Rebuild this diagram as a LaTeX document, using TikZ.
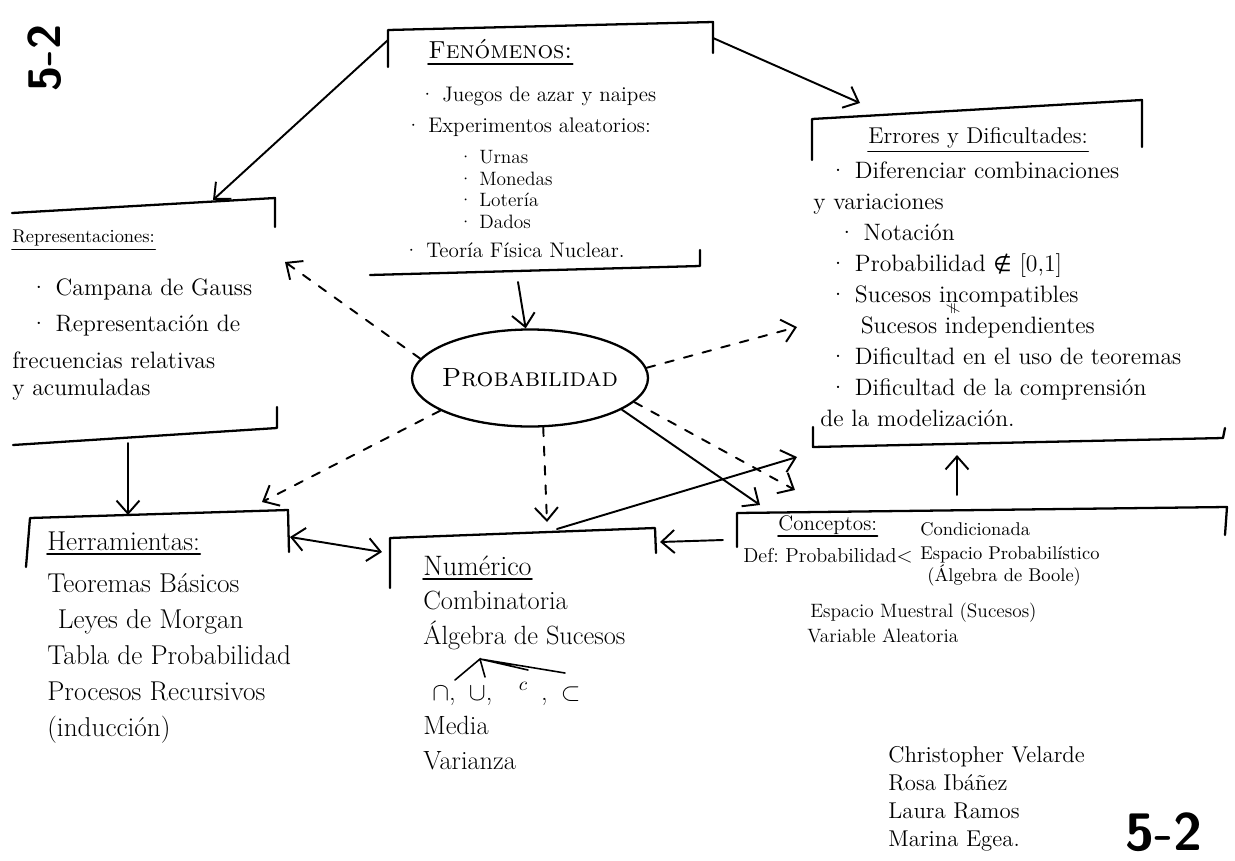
\documentclass[tikz,border=0pt]{standalone}
\usepackage{fontspec}
\usepackage{tikz}
\usetikzlibrary{arrows.meta,calc,positioning,shapes.geometric}
\newfontfamily\symbfont{DejaVu Sans}

\newcommand{\fsz}[2]{\fontsize{#1}{#2}\selectfont}

\begin{document}
\begin{tikzpicture}[
    x=0.2mm, y=-0.2mm,
    frame/.style={line width=1.3pt,line cap=round,line join=round},
    uline/.style={line width=1pt,line cap=round},
    txt/.style={inner sep=0pt,anchor=base west},
    list/.style={inner sep=0pt,anchor=north west,align=left},
    arr/.style={-{Straight Barb[length=2.6mm,width=4.6mm]},line width=1.1pt,line cap=round},
    both/.style={arr,{Straight Barb[length=2.6mm,width=4.6mm]}-{Straight Barb[length=2.6mm,width=4.6mm]}},
    darr/.style={arr,dash pattern=on 5pt off 6pt},
    fan/.style={line width=0.9pt,line cap=round}
  ]
  \useasboundingbox (0,0) rectangle (1235,861);

  % sheet marks
  \node[rotate=90,font=\sffamily\bfseries\fsz{26}{26}] (hoja) at (45,58) {5-2};
  \node[txt,font=\sffamily\bfseries\fsz{30}{30}] (grupo) at (1125,850) {5-2};

  % centre
  \node[draw,ellipse,frame,inner xsep=-7pt,minimum width=47.2mm,minimum height=19.4mm,font=\fsz{15}{18}] (prob) at (530,378) {\textsc{Probabilidad}};

  % Fenomenos
  \draw[frame] (388,67) -- (388,30) -- (713,22) -- (713,53);
  \draw[frame] (370,275) -- (700,266) -- (700,250);
  \coordinate (fenNW) at (388,40);
  \coordinate (fenNE) at (713,38);
  \coordinate (fenS) at (518,282);
  \node[txt,font=\fsz{14}{16}] (fenT) at (428,58) {\textsc{Fenómenos:}};
  \draw[uline] ([yshift=-3pt]fenT.south west) -- ([yshift=-3pt]fenT.south east);
  \node[list,font=\fsz{12}{17.6}] (fenA) at (405,87) {\hspace*{8pt}\textperiodcentered\ Juegos de azar y naipes\\
    \textperiodcentered\ Experimentos aleatorios:};
  \node[list,font=\fsz{11}{12.3}] (fenB) at (458,150) {\textperiodcentered\ Urnas\\\textperiodcentered\ Monedas\\
    \textperiodcentered\ Lotería\\\textperiodcentered\ Dados};
  \node[txt,font=\fsz{12}{14}] (fenC) at (403,257) {\textperiodcentered\ Teoría Física Nuclear.};

  % Representaciones
  \draw[frame] (12,213) -- (275,198) -- (275,227);
  \draw[frame] (13,445) -- (277,428) -- (277,407);
  \coordinate (repN) at (213,200);
  \coordinate (repS) at (128,443);
  \coordinate (repD) at (285,262);
  \node[txt,font=\fsz{10.5}{12}] (repT) at (12,242) {Representaciones:};
  \draw[uline] ([yshift=-2pt]repT.south west) -- ([yshift=-2pt]repT.south east);
  \node[list,font=\fsz{13.5}{21}] (repA) at (12,278) {\hspace*{10pt}\textperiodcentered\ Campana de Gauss\\
    \hspace*{10pt}\textperiodcentered\ Representación de\\frecuencias relativas};
  \node[txt,font=\fsz{13.5}{16}] (repB) at (12,395) {y acumuladas};

  % Herramientas
  \draw[frame] (26,567) -- (30,518) -- (288,510) -- (289,552);
  \coordinate (herN) at (128,515);
  \coordinate (herE) at (290,537);
  \coordinate (herD) at (262,502);
  \node[txt,font=\fsz{15.5}{18}] (herT) at (47,550) {Herramientas:};
  \draw[uline] ([yshift=-2pt]herT.south west) -- ([yshift=-2pt]herT.south east);
  \node[list,font=\fsz{15.5}{20.5}] (herA) at (47,573) {Teoremas Básicos\\\hspace*{6pt}Leyes de Morgan\\
    Tabla de Probabilidad\\Procesos Recursivos\\(inducción)};

  % Numerico
  \draw[frame] (390,588) -- (390,538) -- (655,528) -- (656,553);
  \coordinate (numW) at (382,552);
  \coordinate (numE) at (660,542);
  \coordinate (numN) at (547,522);
  \coordinate (numT) at (557,529);
  \node[txt,font=\fsz{16}{18}] (numT1) at (423,575) {Numérico};
  \draw[uline] ([yshift=-2pt]numT1.south west) -- ([yshift=-2pt]numT1.south east);
  \node[list,font=\fsz{15}{20}] (numA) at (423,591) {Combinatoria\\Álgebra de Sucesos};
  \node[txt,font=\fsz{15}{16}] (numOps) at (432,700) {$\cap$,\enspace$\cup$,\enspace\enspace$^{c}$\enspace,\enspace$\subset$};
  \coordinate (alg) at (480,659);
  \coordinate (fan1) at (455,680);
  \coordinate (fan2) at (485,677);
  \coordinate (fan3) at (528,670);
  \coordinate (fan4) at (565,673);
  \draw[fan] (fan1) -- (alg) -- (fan2);
  \draw[fan] (fan3) -- (alg) -- (fan4);
  \node[list,font=\fsz{15}{20}] (numB) at (423,716) {Media\\Varianza};

  % Conceptos
  \draw[frame] (737,547) -- (737,513) -- (1227,507) -- (1225,535);
  \coordinate (conW) at (723,540);
  \coordinate (conN) at (957,495);
  \coordinate (conNW) at (760,505);
  \coordinate (conD) at (795,490);
  \node[txt,font=\fsz{12}{14}] (conT) at (778,530) {Conceptos:};
  \draw[uline] ([yshift=-1pt]conT.south west) -- ([yshift=-1pt]conT.south east);
  \node[txt,font=\fsz{11.5}{13}] (defp) at (743,562) {Def:\ Probabilidad$<$};
  \node[txt,font=\fsz{10.5}{12}] (cond) at (920,535) {Condicionada};
  \node[txt,font=\fsz{10.5}{12}] (espp) at (920,559) {Espacio Probabilístico};
  \node[txt,font=\fsz{10.5}{12}] (boole) at (927,581) {(Álgebra de Boole)};
  \node[txt,font=\fsz{11}{13}] (muestral) at (810,617) {Espacio Muestral (Sucesos)};
  \node[txt,font=\fsz{11}{13}] (va) at (807,642) {Variable Aleatoria};

  % Errores y Dificultades
  \draw[frame] (812,160) -- (812,119) -- (1142,100) -- (1142,147);
  \draw[frame] (813,427) -- (813,447) -- (1223,438) -- (1225,428);
  \coordinate (errN) at (860,103);
  \coordinate (errS) at (957,455);
  \coordinate (errSW) at (797,457);
  \coordinate (errW) at (797,327);
  \node[txt,font=\fsz{13}{15}] (errT) at (868,143) {Errores y Dificultades:};
  \draw[uline] ([yshift=-2pt]errT.south west) -- ([yshift=-2pt]errT.south east);
  \node[list,font=\fsz{13.5}{17.7}] (errA) at (813,161) {\hspace*{9pt}\textperiodcentered\ Diferenciar combinaciones\\
    y variaciones\\
    \hspace*{14pt}\textperiodcentered\ Notación\\
    \hspace*{9pt}\textperiodcentered\ Probabilidad {\symbfont\fsz{12}{14}∉} [0,1]\\
    \hspace*{9pt}\textperiodcentered\ Sucesos incompatibles};
  \node[rotate=90,inner sep=0pt,font=\fsz{8}{9}] (neq) at (953,309) {$\neq$};
  \node[list,font=\fsz{13.5}{17.7}] (errB) at (813,316) {\hspace*{27pt}Sucesos independientes\\
    \hspace*{9pt}\textperiodcentered\ Dificultad en el uso de teoremas\\
    \hspace*{9pt}\textperiodcentered\ Dificultad de la comprensión\\
    \hspace*{4pt}de la modelización.};

  % autores
  \node[list,font=\fsz{13}{15.9}] (autores) at (888,746) {Christopher Velarde\\Rosa Ibáñez\\Laura Ramos\\Marina Egea.};

  % arrows
  \draw[arr] (fenNW) -- (repN);
  \draw[arr] (fenNE) -- (errN);
  \draw[arr] (fenS) -- (prob.95);
  \draw[arr] (repS) -- (herN);
  \draw[both] (herE) -- (numW);
  \draw[arr] (conW) -- (numE);
  \draw[arr] (conN) -- (errS);
  \draw[arr] (prob.341) -- (conNW);
  \draw[arr] (numT) -- (errSW);
  \draw[darr] (prob.170) -- (repD);
  \draw[darr] (prob.200) -- (herD);
  \draw[darr] (prob.285) -- (numN);
  \draw[darr] (prob.5) -- (errW);
  \draw[darr] (prob.347) -- (conD);
\end{tikzpicture}
\end{document}
